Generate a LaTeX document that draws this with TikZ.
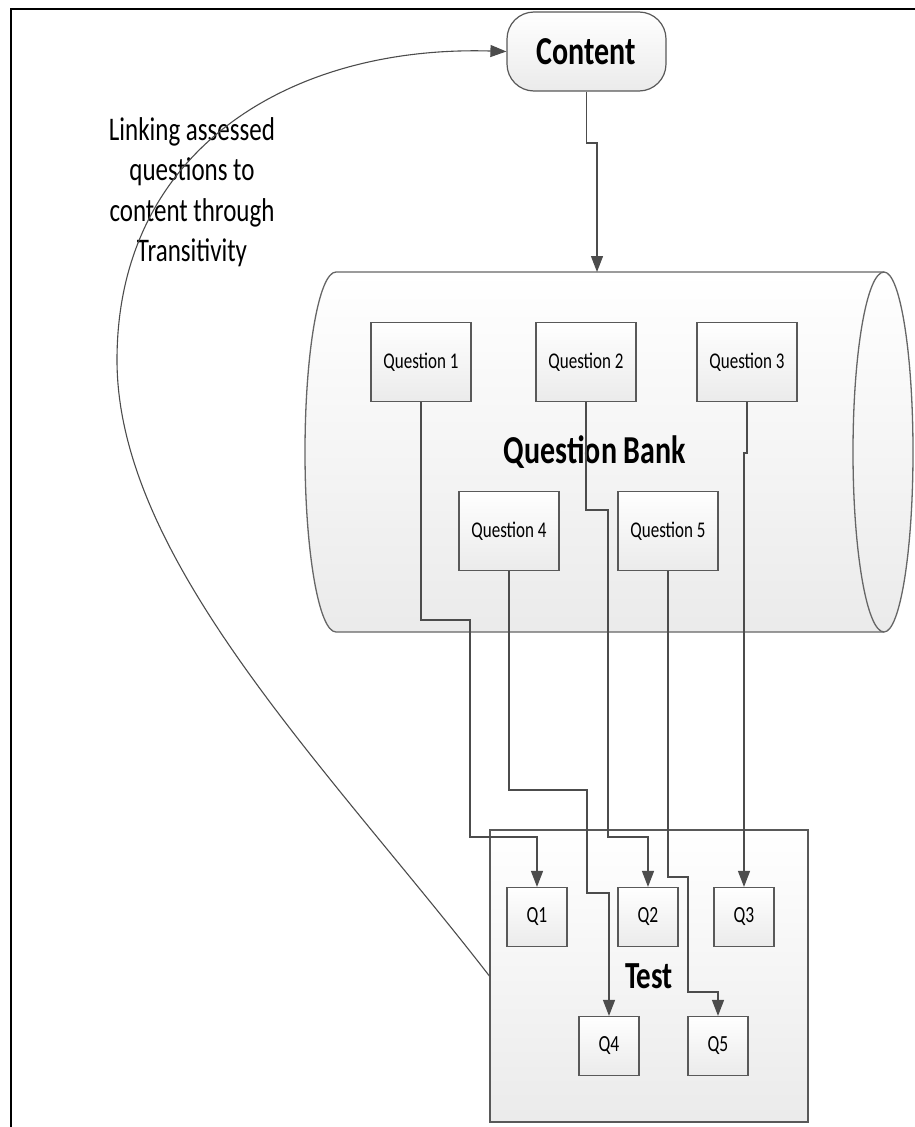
\documentclass[tikz,border=0pt]{standalone}
\usepackage{fontspec}
\usepackage{graphicx}
\setmainfont{Carlito}
\usetikzlibrary{arrows.meta}
\newcommand{\tallText}[1]{\scalebox{1}[1.32]{#1}}

\begin{document}
\begin{tikzpicture}[x=1pt,y=1pt]
        \tikzstyle{box}=[draw=black!65,line width=1.2pt,top color=white,bottom color=black!8,inner sep=0pt]
        \tikzstyle{question}=[box,minimum width=100pt,minimum height=79pt,font=\fontsize{17}{20}\selectfont]
        \tikzstyle{slot}=[box,minimum width=60pt,minimum height=59pt,font=\fontsize{17.5}{20}\selectfont]
        \tikzstyle{title}=[font=\fontsize{30}{36}\selectfont\bfseries]
        \tikzstyle{link}=[draw=black!70,line width=1.3pt,-{Triangle[length=16pt,width=12pt]}]
        \useasboundingbox (0,0) rectangle (915,-1127);
        % frame
        \draw[line width=2pt] (11,-1127) -- (11,-9) -- (915,-9);
        % question bank
        \draw[draw=black!60,line width=1.3pt,top color=white,bottom color=black!8]
            (336,-272) -- (884,-272) arc[start angle=90,end angle=-90,x radius=29,y radius=180]
            -- (336,-632) arc[start angle=270,end angle=90,x radius=31,y radius=180] -- cycle;
        \draw[draw=black!60,line width=1.3pt] (884,-272) arc[start angle=90,end angle=270,x radius=31,y radius=180];
        \node[title] (bank) at (595,-452) {\tallText{Question Bank}};
        \coordinate (bank top) at (597,-272);
        % test
        \node[box,minimum width=318pt,minimum height=292pt,font=\fontsize{29}{34}\selectfont\bfseries] (test) at (649,-976) {\tallText{Test}};
        % content
        \node[box,title,rounded corners=27pt,minimum width=159pt,minimum height=79pt] (content) at (586.5,-51.5) {\tallText{Content}};
        \node[font=\fontsize{25}{30.5}\selectfont] (note) at (192,-193)
            {\tallText{\begin{tabular}{@{}c@{}}Linking assessed\\questions to\\content through\\Transitivity\end{tabular}}};
        \foreach \name / \x / \y in {1/421/362, 2/586/362, 3/747/362, 4/509/531, 5/668/531}
            \node[question] (QB-\name) at (\x,-\y) {\tallText{Question \name}};
        \foreach \name / \x / \y in {1/537/917, 2/648/917, 3/744/917, 4/609/1046, 5/718/1046}
            \node[slot] (T-\name) at (\x,-\y) {\tallText{Q\name}};
        % links
        \draw[link] (content.south) |- (597,-143) -- (bank top);
        \draw[link] (QB-1.south) |- (470,-620) |- (537,-837) -- (T-1.north);
        \draw[link] (QB-2.south) |- (608,-510) |- (648,-837) -- (T-2.north);
        \draw[link] (QB-3.south) |- (744,-453) -- (T-3.north);
        \draw[link] (QB-4.south) |- (587,-790) |- (609,-893) -- (T-4.north);
        \draw[link] (QB-5.south) |- (688,-877) |- (718,-992) -- (T-5.north);
        \coordinate (bend) at (117,-360);
        \draw[link,line width=1.1pt] (test.west) .. controls (330,-770) and (117,-560) .. (bend)
            .. controls (117,-150) and (290,-45) .. (content.west);
    \end{tikzpicture}
\end{document}
